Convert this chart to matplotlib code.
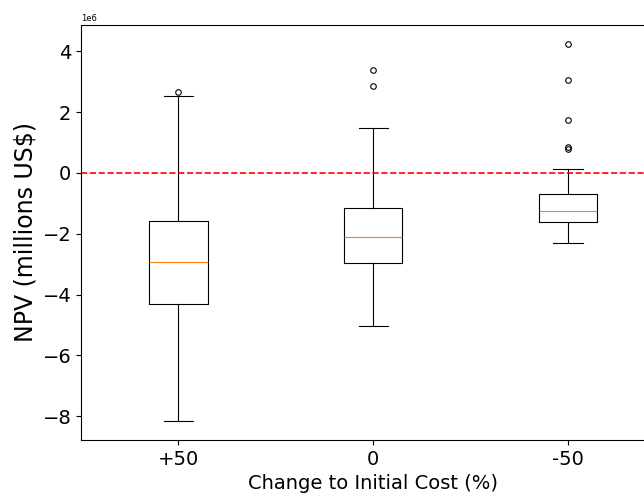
import matplotlib.pyplot as plt

# 讀圖估計的箱型圖統計值 (單位: US$)
labels = ["+50", "0", "-50"]
q1 = [-4.32e6, -2.96e6, -1.60e6]
med = [-2.94e6, -2.10e6, -1.26e6]
q3 = [-1.57e6, -1.14e6, -0.70e6]
whislo = [-8.16e6, -5.02e6, -2.30e6]
whishi = [2.52e6, 1.49e6, 0.13e6]
fliers = [
    [2.66e6],
    [3.39e6, 2.87e6],
    [4.25e6, 3.06e6, 1.73e6, 0.85e6, 0.78e6],
]

stats = []
for i in range(len(labels)):
    stats.append({"label": labels[i], "q1": q1[i], "med": med[i], "q3": q3[i],
                  "whislo": whislo[i], "whishi": whishi[i], "fliers": fliers[i]})

fig = plt.figure(figsize=(6.44, 4.96), dpi=100)
ax = fig.add_axes([0.126, 0.113, 0.907, 0.837])

lw = 0.8
ax.bxp(stats, widths=0.3,
       boxprops=dict(linewidth=lw),
       whiskerprops=dict(linewidth=lw),
       capprops=dict(linewidth=lw),
       medianprops=dict(linewidth=lw),
       flierprops=dict(markersize=4, markeredgewidth=lw))

ax.axhline(0, color='red', linestyle='--', linewidth=1.2)

ax.set_xlabel("Change to Initial Cost (%)", fontsize=14)
ax.set_ylabel("NPV (millions US$)", fontsize=17)
ax.tick_params(axis='both', labelsize=14)
ax.yaxis.get_offset_text().set_fontsize(6)
for s in ax.spines.values():
    s.set_linewidth(lw)

plt.savefig("out.png", dpi=100)
